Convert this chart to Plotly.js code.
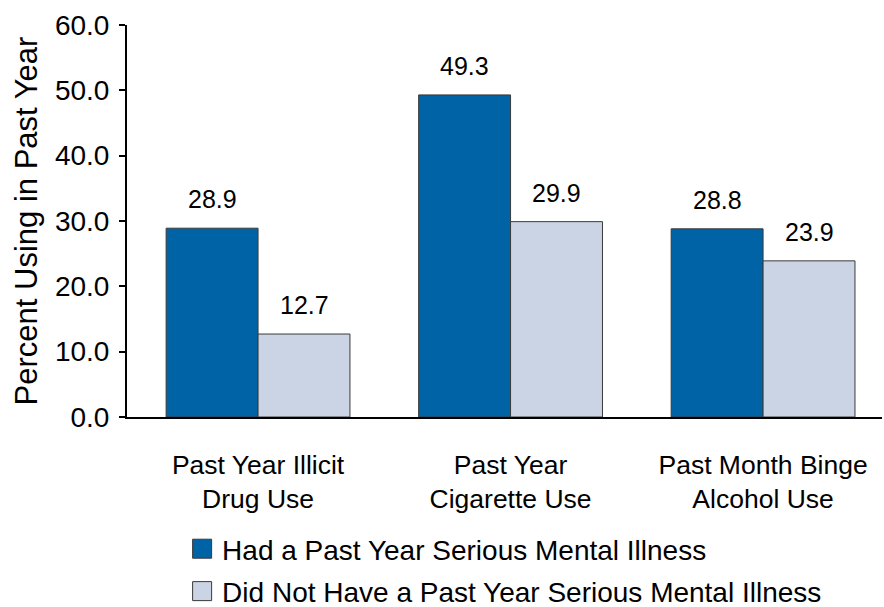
<!DOCTYPE html>
<html>
<head>
<meta charset="utf-8">
<script src="https://cdn.plot.ly/plotly-3.0.1.min.js"></script>
<style>html,body{margin:0;padding:0;background:#fff}#chart{width:884px;height:607px}</style>
</head>
<body>
<div id="chart"></div>
<script>
const categories = ["Past Year Illicit<br>Drug Use", "Past Year<br>Cigarette Use", "Past Month Binge<br>Alcohol Use"];
const seriesNames = ["Had a Past Year Serious Mental Illness", "Did Not Have a Past Year Serious Mental Illness"];
const hadSMI = [28.9, 49.3, 28.8];
const noSMI = [12.7, 29.9, 23.9];
const yTicks = [0, 10, 20, 30, 40, 50, 60];

const FONT = "Liberation Sans, Arial, sans-serif";
const colors = ["#0063A6", "#CBD4E4"];

const traces = [hadSMI, noSMI].map((vals, i) => ({
  type: "bar",
  x: categories,
  y: vals,
  name: seriesNames[i],
  legendgroup: "g" + i,
  marker: {color: colors[i], line: {color: "#3a3a3a", width: 1}},
  hoverinfo: "skip"
}));

const annotations = [];
[hadSMI, noSMI].forEach((vals, i) => {
  vals.forEach((v, j) => {
    annotations.push({
      x: j + (i === 0 ? -0.182 : 0.182),
      y: v,
      xref: "x", yref: "y",
      text: v.toFixed(1),
      showarrow: false,
      yanchor: "bottom",
      yshift: 13,
      font: {family: FONT, size: 25, color: "#000"}
    });
  });
});

const layout = {
  width: 884, height: 607,
  margin: {l: 127, r: 2, t: 25, b: 190, autoexpand: false},
  paper_bgcolor: "#fff", plot_bgcolor: "#fff",
  font: {family: FONT, color: "#000"},
  barmode: "group",
  bargap: 0.272,
  bargroupgap: 0,
  showlegend: true,
  legend: {
    orientation: "v",
    x: 0.073, xanchor: "left",
    y: -0.273, yanchor: "top",
    traceorder: "grouped",
    tracegroupgap: 3,
    font: {family: FONT, size: 28, color: "#000"},
    itemwidth: 30
  },
  xaxis: {
    type: "category",
    range: [-0.519, 2.471],
    showline: true, linecolor: "#000", linewidth: 2,
    ticks: "", showgrid: false, zeroline: false,
    tickfont: {family: FONT, size: 26.5, color: "#000"},
    ticklabelstandoff: 23,
    automargin: false,
    fixedrange: true
  },
  yaxis: {
    range: [0, 60],
    tickvals: yTicks,
    ticktext: yTicks.map(v => v.toFixed(1)),
    showline: true, linecolor: "#000", linewidth: 2,
    ticks: "outside", ticklen: 6, tickcolor: "#000", tickwidth: 2,
    showgrid: false, zeroline: false,
    tickfont: {family: FONT, size: 28, color: "#000"},
    ticklabelstandoff: 4,
    automargin: false,
    title: {text: "Percent Using in Past Year", font: {family: FONT, size: 31, color: "#000"}, standoff: 8},
    fixedrange: true
  },
  annotations: annotations
};

Plotly.newPlot("chart", traces, layout, {displayModeBar: false, staticPlot: true}).then(() => {
  document.querySelectorAll("#chart .legendpoints path").forEach(p => {
    p.setAttribute("d", "M9.5,9.5H-9.5V-9.5H9.5Z");
    p.style.strokeWidth = "1px";
  });
});
</script>
</body>
</html>
